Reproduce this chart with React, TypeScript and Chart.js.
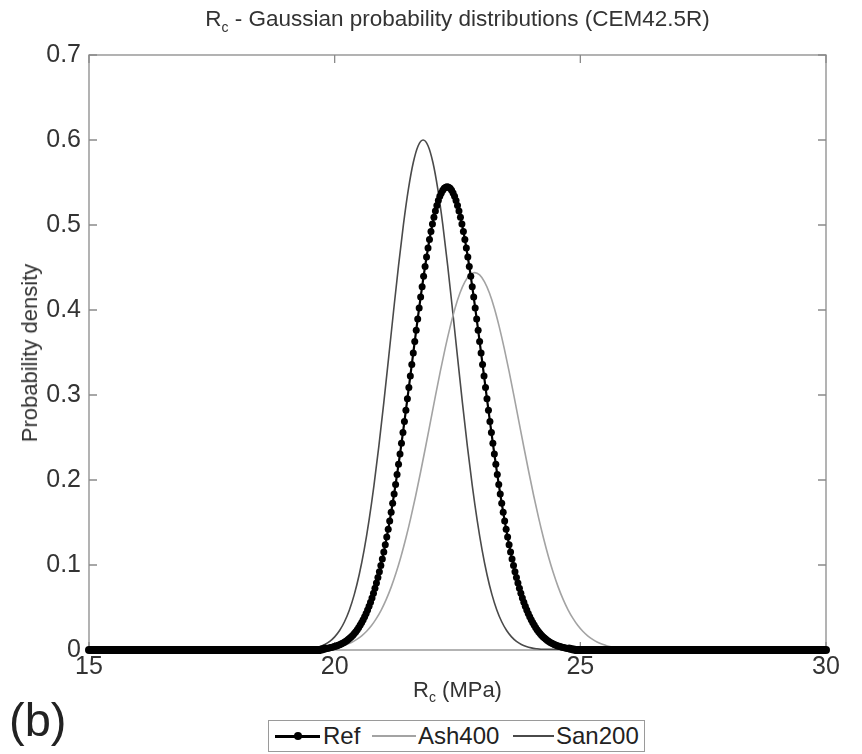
import React, { useEffect, useRef } from "react";
import { Chart, registerables } from "chart.js";

Chart.register(...registerables);

// ---------- data ----------
const xMin = 15;
const xMax = 30;
const xStep = 5;
const yMin = 0;
const yMax = 0.7;
const yStep = 0.1;

// Ref: sampled every 0.03 MPa from 19.80 to 24.78 (peak at 22.29)
const refStart = 19.8;
const refStep = 0.03;
const refValues = [
  0.0017, 0.0019, 0.0022, 0.0025, 0.0029, 0.0033, 0.0037, 0.0043, 0.0048, 0.0055,
  0.0062, 0.0070, 0.0079, 0.0089, 0.0100, 0.0112, 0.0126, 0.0140, 0.0157, 0.0175,
  0.0194, 0.0216, 0.0239, 0.0265, 0.0293, 0.0323, 0.0356, 0.0391, 0.0430, 0.0471,
  0.0515, 0.0563, 0.0613, 0.0668, 0.0726, 0.0787, 0.0853, 0.0922, 0.0995, 0.1072,
  0.1153, 0.1239, 0.1328, 0.1422, 0.1519, 0.1621, 0.1726, 0.1835, 0.1948, 0.2064,
  0.2184, 0.2306, 0.2432, 0.2559, 0.2689, 0.2821, 0.2955, 0.3089, 0.3224, 0.3360,
  0.3495, 0.3630, 0.3763, 0.3895, 0.4025, 0.4152, 0.4275, 0.4396, 0.4512, 0.4623,
  0.4729, 0.4829, 0.4923, 0.5011, 0.5092, 0.5165, 0.5230, 0.5288, 0.5337, 0.5377,
  0.5409, 0.5432, 0.5445,
  0.5450,
  0.5445, 0.5432, 0.5409, 0.5377, 0.5337, 0.5288, 0.5230, 0.5165, 0.5092, 0.5011,
  0.4923, 0.4829, 0.4729, 0.4623, 0.4512, 0.4396, 0.4275, 0.4152, 0.4025, 0.3895,
  0.3763, 0.3630, 0.3495, 0.3360, 0.3224, 0.3089, 0.2955, 0.2821, 0.2689, 0.2559,
  0.2432, 0.2306, 0.2184, 0.2064, 0.1948, 0.1835, 0.1726, 0.1621, 0.1519, 0.1422,
  0.1328, 0.1239, 0.1153, 0.1072, 0.0995, 0.0922, 0.0853, 0.0787, 0.0726, 0.0668,
  0.0613, 0.0563, 0.0515, 0.0471, 0.0430, 0.0391, 0.0356, 0.0323, 0.0293, 0.0265,
  0.0239, 0.0216, 0.0194, 0.0175, 0.0157, 0.0140, 0.0126, 0.0112, 0.0100, 0.0089,
  0.0079, 0.0070, 0.0062, 0.0055, 0.0048, 0.0043, 0.0037, 0.0033, 0.0029, 0.0025,
  0.0022, 0.0019, 0.0017,
];
// Ref samples lying on zero outside the bell
const refZeroLeft = [
  15.0, 15.1, 15.2, 15.3, 15.4, 15.5, 15.6, 15.7, 15.8, 15.9,
  16.0, 16.1, 16.2, 16.3, 16.4, 16.5, 16.6, 16.7, 16.8, 16.9,
  17.0, 17.1, 17.2, 17.3, 17.4, 17.5, 17.6, 17.7, 17.8, 17.9,
  18.0, 18.1, 18.2, 18.3, 18.4, 18.5, 18.6, 18.7, 18.8, 18.9,
  19.0, 19.1, 19.2, 19.3, 19.4, 19.5, 19.6, 19.7,
];
const refZeroRight = [
  24.9, 25.0, 25.1, 25.2, 25.3, 25.4, 25.5, 25.6, 25.7, 25.8, 25.9,
  26.0, 26.1, 26.2, 26.3, 26.4, 26.5, 26.6, 26.7, 26.8, 26.9,
  27.0, 27.1, 27.2, 27.3, 27.4, 27.5, 27.6, 27.7, 27.8, 27.9,
  28.0, 28.1, 28.2, 28.3, 28.4, 28.5, 28.6, 28.7, 28.8, 28.9,
  29.0, 29.1, 29.2, 29.3, 29.4, 29.5, 29.6, 29.7, 29.8, 29.9, 30.0,
];

// Ash400: every 0.1 MPa from 19.85 to 25.85 (peak at 22.85)
const ashStart = 19.85;
const ashStep = 0.1;
const ashValues = [
  0.0017, 0.0024, 0.0034, 0.0048, 0.0067, 0.0092, 0.0125, 0.0167, 0.0221, 0.0288,
  0.0372, 0.0473, 0.0596, 0.0740, 0.0908, 0.1100, 0.1317, 0.1557, 0.1818, 0.2097,
  0.2388, 0.2687, 0.2986, 0.3277, 0.3552, 0.3802, 0.4021, 0.4199, 0.4331, 0.4413,
  0.4440,
  0.4413, 0.4331, 0.4199, 0.4021, 0.3802, 0.3552, 0.3277, 0.2986, 0.2687, 0.2388,
  0.2097, 0.1818, 0.1557, 0.1317, 0.1100, 0.0908, 0.0740, 0.0596, 0.0473, 0.0372,
  0.0288, 0.0221, 0.0167, 0.0125, 0.0092, 0.0067, 0.0048, 0.0034, 0.0024, 0.0017,
];

// San200: every 0.1 MPa from 19.4 to 24.2 (peak at 21.8)
const sanStart = 19.4;
const sanStep = 0.1;
const sanValues = [
  0.0009, 0.0015, 0.0025, 0.0041, 0.0065, 0.0101, 0.0154, 0.0229, 0.0332, 0.0471,
  0.0654, 0.0888, 0.1178, 0.1528, 0.1937, 0.2401, 0.2910, 0.3448, 0.3994, 0.4523,
  0.5007, 0.5419, 0.5735, 0.5933,
  0.6000,
  0.5933, 0.5735, 0.5419, 0.5007, 0.4523, 0.3994, 0.3448, 0.2910, 0.2401, 0.1937,
  0.1528, 0.1178, 0.0888, 0.0654, 0.0471, 0.0332, 0.0229, 0.0154, 0.0101, 0.0065,
  0.0041, 0.0025, 0.0015, 0.0009,
];

const tailEnds = [15, 30];

const seriesNames = ["Ref", "Ash400", "San200"];

// ---------- helpers ----------
type Pt = { x: number; y: number };
const onGrid = (start: number, step: number, vals: number[]): Pt[] =>
  vals.map((y, i) => ({ x: Math.round((start + i * step) * 1000) / 1000, y }));
const zeros = (xs: number[]): Pt[] => xs.map((x) => ({ x, y: 0 }));

const FONT = "'Liberation Sans', Arial, Helvetica, sans-serif";

const PLOT_LEFT = 89;
const PLOT_RIGHT = 826;
const PLOT_TOP = 55;
const PLOT_BOTTOM = 650;
const W = 862;
const H = 754;

const COLOR_REF = "#000000";
const COLOR_ASH = "#a3a3a3";
const COLOR_SAN = "#4a4a4a";

const boxPlugin = {
  id: "matlabBox",
  beforeDatasetsDraw(chart: any) {
    const { ctx, chartArea: a, scales } = chart;
    ctx.save();
    ctx.strokeStyle = "#8a8a8a";
    ctx.lineWidth = 1.3;
    ctx.strokeRect(a.left, a.top, a.right - a.left, a.bottom - a.top);
    const tl = 8;
    ctx.beginPath();
    scales.y.ticks.forEach((t: any) => {
      const p = scales.y.getPixelForValue(t.value);
      ctx.moveTo(a.left, p);
      ctx.lineTo(a.left + tl, p);
      ctx.moveTo(a.right, p);
      ctx.lineTo(a.right - tl, p);
    });
    scales.x.ticks.forEach((t: any) => {
      const p = scales.x.getPixelForValue(t.value);
      ctx.moveTo(p, a.bottom);
      ctx.lineTo(p, a.bottom - tl);
      ctx.moveTo(p, a.top);
      ctx.lineTo(p, a.top + tl);
    });
    ctx.stroke();
    ctx.restore();
  },
};

export default function App() {
  const canvasRef = useRef<HTMLCanvasElement | null>(null);

  useEffect(() => {
    if (!canvasRef.current) return;
    const refBody = onGrid(refStart, refStep, refValues);
    const refData = [...zeros(refZeroLeft), ...refBody, ...zeros(refZeroRight)];
    // overlapping markers on zero form a solid band: drawn as two thick segments
    const bandLeft = [...zeros(refZeroLeft), refBody[0]];
    const bandRight = [refBody[refBody.length - 1], ...zeros(refZeroRight)];
    const ashData = [
      { x: tailEnds[0], y: 0 },
      ...onGrid(ashStart, ashStep, ashValues),
      { x: tailEnds[1], y: 0 },
    ];
    const sanData = [
      { x: tailEnds[0], y: 0 },
      ...onGrid(sanStart, sanStep, sanValues),
      { x: tailEnds[1], y: 0 },
    ];

    const band = (data: Pt[]) => ({
      label: seriesNames[0] + " band",
      data,
      borderColor: COLOR_REF,
      backgroundColor: COLOR_REF,
      borderWidth: 8,
      borderCapStyle: "round" as const,
      pointRadius: 0,
      tension: 0,
      clip: false as any,
    });

    const chart = new Chart(canvasRef.current, {
      type: "line",
      data: {
        datasets: [
          {
            label: seriesNames[0],
            data: refData,
            borderColor: COLOR_REF,
            backgroundColor: COLOR_REF,
            borderWidth: 2.2,
            pointRadius: (c: any) => (c.raw && c.raw.y === 0 ? 0 : 3.5),
            pointBorderWidth: 0,
            pointBackgroundColor: COLOR_REF,
            tension: 0,
            clip: false as any,
          },
          band(bandLeft),
          band(bandRight),
          {
            label: seriesNames[1],
            data: ashData,
            borderColor: COLOR_ASH,
            borderWidth: 1.6,
            pointRadius: 0,
            cubicInterpolationMode: "monotone",
          },
          {
            label: seriesNames[2],
            data: sanData,
            borderColor: COLOR_SAN,
            borderWidth: 1.6,
            pointRadius: 0,
            cubicInterpolationMode: "monotone",
          },
        ],
      },
      options: {
        animation: false,
        responsive: false,
        maintainAspectRatio: false,
        events: [],
        layout: {
          padding: { top: PLOT_TOP, right: W - PLOT_RIGHT, left: 0, bottom: 0 },
        },
        plugins: {
          legend: { display: false },
          tooltip: { enabled: false },
          title: { display: false },
        },
        scales: {
          x: {
            type: "linear",
            min: xMin,
            max: xMax,
            ticks: {
              stepSize: xStep,
              font: { family: FONT, size: 25 },
              color: "#333333",
              padding: 2,
              maxRotation: 0,
            },
            grid: { display: false, drawTicks: false },
            border: { display: false },
            afterFit: (s: any) => {
              s.height = H - PLOT_BOTTOM;
            },
          },
          y: {
            min: yMin,
            max: yMax,
            ticks: {
              stepSize: yStep,
              font: { family: FONT, size: 25 },
              color: "#333333",
              padding: 8,
            },
            grid: { display: false, drawTicks: false },
            border: { display: false },
            afterFit: (s: any) => {
              s.width = PLOT_LEFT;
            },
          },
        },
      },
      plugins: [boxPlugin],
    });
    return () => chart.destroy();
  }, []);

  const sample = (left: number, width: number, color: string, lw: number, dot: boolean) => (
    <span
      style={{
        position: "absolute",
        left,
        top: 15 - lw / 2,
        width,
        height: lw,
        background: color,
      }}
    >
      {dot && (
        <span
          style={{
            position: "absolute",
            left: width / 2 - 4,
            top: lw / 2 - 4,
            width: 8,
            height: 8,
            borderRadius: "50%",
            background: "#000",
          }}
        />
      )}
    </span>
  );

  const label = (left: number, text: string) => (
    <span style={{ position: "absolute", left, top: 15, transform: "translateY(-50%)", lineHeight: 1 }}>
      {text}
    </span>
  );

  return (
    <div
      style={{
        position: "fixed",
        left: 0,
        top: 0,
        width: W,
        height: H,
        background: "#ffffff",
        fontFamily: FONT,
        color: "#222",
      }}
    >
      <canvas ref={canvasRef} width={W} height={H} style={{ position: "absolute", left: 0, top: 0 }} />
      {/* title */}
      <div
        style={{
          position: "absolute",
          left: PLOT_LEFT,
          width: PLOT_RIGHT - PLOT_LEFT,
          top: 5,
          textAlign: "center",
          fontSize: 22.5,
          color: "#333",
          whiteSpace: "nowrap",
          lineHeight: 1.2,
        }}
      >
        R<sub style={{ fontSize: 14 }}>c</sub> - Gaussian probability distributions (CEM42.5R)
      </div>
      {/* y axis title */}
      <div
        style={{
          position: "absolute",
          left: 30,
          top: 353,
          transform: "translate(-50%, -50%) rotate(-90deg)",
          fontSize: 22,
          whiteSpace: "nowrap",
          color: "#333",
          lineHeight: 1,
        }}
      >
        Probability density
      </div>
      {/* x axis title */}
      <div
        style={{
          position: "absolute",
          left: PLOT_LEFT,
          width: PLOT_RIGHT - PLOT_LEFT,
          top: 677,
          textAlign: "center",
          fontSize: 22,
          color: "#333",
          whiteSpace: "nowrap",
          lineHeight: 1.2,
        }}
      >
        R<sub style={{ fontSize: 14 }}>c</sub> (MPa)
      </div>
      {/* panel tag */}
      <div style={{ position: "absolute", left: 9, top: 694, fontSize: 47, color: "#222", lineHeight: 1.1 }}>(b)</div>
      {/* legend */}
      <div
        style={{
          position: "absolute",
          left: 268,
          top: 720,
          width: 377,
          height: 32,
          boxSizing: "border-box",
          border: "1px solid #9a9a9a",
          background: "#fff",
          fontSize: 24,
          color: "#222",
          whiteSpace: "nowrap",
        }}
      >
        {sample(6, 45, COLOR_REF, 3, true)}
        {label(54, seriesNames[0])}
        {sample(103, 44, COLOR_ASH, 1.6, false)}
        {label(149, seriesNames[1])}
        {sample(244, 41, COLOR_SAN, 1.8, false)}
        {label(287, seriesNames[2])}
      </div>
    </div>
  );
}
